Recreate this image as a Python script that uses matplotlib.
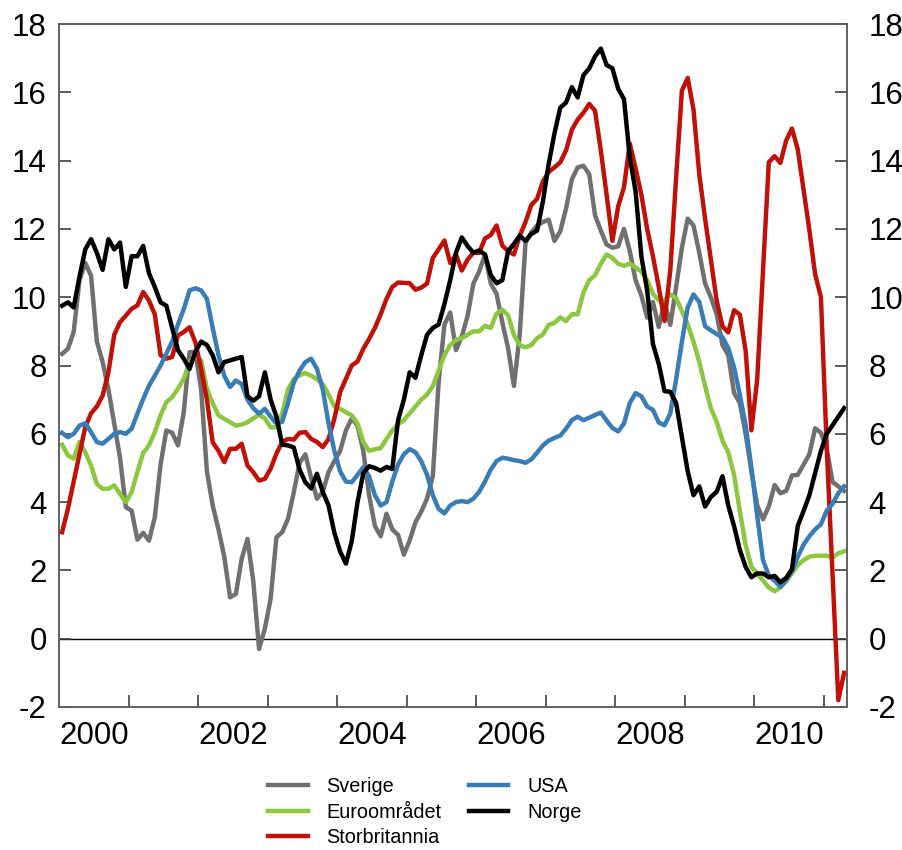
import numpy as np
import matplotlib
matplotlib.use("Agg")
import matplotlib.pyplot as plt

plt.rcParams['font.family'] = ['Liberation Sans', 'DejaVu Sans']

# månedlige tall, jan 2000 - apr 2011 (12-månedersvekst, prosent)
sverige = [8.34, 8.49, 8.98, 10.5, 11.0, 10.63, 8.7, 8.1, 7.3, 6.3, 5.3, 3.85,
           3.75, 2.9, 3.1, 2.87, 3.55, 5.1, 6.1, 6.03, 5.66, 6.63, 8.39, 8.4,
           7.3, 4.9, 3.9, 3.2, 2.4, 1.21, 1.31, 2.34, 2.92, 1.7, -0.3, 0.29,
           1.17, 2.97, 3.12, 3.51, 4.29, 5.15, 5.4, 4.7, 4.1, 4.3, 4.88, 5.2,
           5.5, 6.1, 6.45, 6.24, 5.5, 4.2, 3.3, 3.0, 3.66, 3.2, 3.04, 2.46,
           2.88, 3.41, 3.72, 4.1, 4.76, 7.5, 9.2, 9.55, 8.45, 8.85, 9.45, 10.4,
           10.75, 11.25, 10.4, 10.1, 9.26, 8.5, 7.4, 8.9, 11.6, 11.9, 12.1, 12.2,
           12.27, 11.65, 11.93, 12.6, 13.45, 13.8, 13.85, 13.6, 12.4, 11.95, 11.54, 11.45,
           11.49, 12.0, 11.35, 10.5, 10.05, 9.4, 9.86, 9.13, 9.86, 9.19, 10.3, 11.45,
           12.3, 12.1, 11.3, 10.4, 10.0, 9.5, 8.6, 8.3, 7.2, 6.9, 6.0, 4.9,
           3.9, 3.5, 3.87, 4.5, 4.26, 4.33, 4.78, 4.8, 5.1, 5.4, 6.16, 6.03,
           5.57, 4.59, 4.46, 4.33]

euro = [5.68, 5.37, 5.27, 5.76, 5.46, 5.07, 4.53, 4.39, 4.39, 4.49, 4.24, 4.0,
        4.29, 4.88, 5.44, 5.66, 6.05, 6.54, 6.93, 7.07, 7.32, 7.61, 8.1, 8.29,
        8.15, 7.32, 6.9, 6.54, 6.44, 6.34, 6.24, 6.27, 6.34, 6.45, 6.56, 6.45,
        6.19, 6.19, 6.6, 7.3, 7.6, 7.71, 7.78, 7.7, 7.6, 7.45, 7.15, 6.8,
        6.73, 6.63, 6.54, 6.3, 5.76, 5.5, 5.55, 5.58, 5.85, 6.1, 6.28, 6.4,
        6.6, 6.8, 7.0, 7.15, 7.4, 7.85, 8.3, 8.6, 8.75, 8.8, 8.9, 9.0,
        9.0, 9.16, 9.1, 9.52, 9.63, 9.47, 8.89, 8.6, 8.53, 8.6, 8.8, 8.91,
        9.19, 9.25, 9.41, 9.3, 9.5, 9.5, 10.14, 10.5, 10.64, 10.98, 11.25, 11.15,
        10.98, 10.92, 10.98, 10.87, 10.75, 10.5, 10.1, 9.91, 9.91, 10.08, 9.97, 9.6,
        9.2, 8.7, 8.1, 7.4, 6.75, 6.35, 5.8, 5.46, 4.8, 3.74, 2.75, 2.1,
        1.91, 1.7, 1.5, 1.39, 1.5, 1.68, 1.92, 2.15, 2.3, 2.4, 2.43, 2.43,
        2.43, 2.37, 2.5, 2.56]

uk = [3.12, 3.8, 4.6, 5.4, 6.2, 6.6, 6.8, 7.12, 7.8, 8.9, 9.27, 9.46,
      9.66, 9.76, 10.15, 9.9, 9.5, 8.3, 8.2, 8.25, 8.88, 8.98, 9.12, 8.68,
      7.9, 7.0, 5.75, 5.5, 5.17, 5.56, 5.56, 5.71, 5.07, 4.88, 4.63, 4.68,
      4.98, 5.42, 5.76, 5.85, 5.83, 6.03, 6.05, 5.85, 5.76, 5.61, 5.85, 6.44,
      7.22, 7.61, 8.0, 8.12, 8.49, 8.78, 9.1, 9.5, 9.95, 10.3, 10.43, 10.42,
      10.41, 10.22, 10.28, 10.4, 11.15, 11.4, 11.66, 11.0, 11.25, 10.78, 11.1, 11.3,
      11.3, 11.72, 11.82, 12.1, 11.51, 11.35, 11.25, 11.8, 12.2, 12.7, 12.88, 13.39,
      13.67, 13.8, 13.95, 14.3, 14.9, 15.2, 15.4, 15.66, 15.46, 14.3, 13.0, 11.65,
      12.66, 13.22, 14.5, 13.78, 13.0, 12.0, 11.2, 10.3, 9.3, 10.8, 13.5, 16.05,
      16.42, 15.5, 13.6, 12.3, 11.1, 9.9, 9.15, 8.97, 9.62, 9.49, 8.44, 6.1,
      7.6, 10.8, 13.95, 14.13, 13.93, 14.59, 14.94, 14.33, 13.15, 11.97, 10.67, 10.0,
      5.6, 1.9, -1.8, -1.0]

usa = [6.03, 5.9, 6.0, 6.24, 6.31, 6.05, 5.76, 5.71, 5.85, 6.0, 6.05, 6.0,
       6.15, 6.59, 7.02, 7.41, 7.7, 8.0, 8.35, 8.7, 9.2, 9.65, 10.2, 10.26,
       10.2, 9.95, 9.1, 8.3, 7.7, 7.37, 7.56, 7.46, 7.0, 6.75, 6.59, 6.73,
       6.5, 6.3, 6.35, 6.9, 7.5, 7.85, 8.1, 8.2, 7.9, 7.3, 6.3, 5.5,
       4.9, 4.6, 4.58, 4.8, 5.02, 4.75, 4.2, 3.9, 4.0, 4.6, 5.1, 5.4,
       5.55, 5.46, 5.2, 4.8, 4.2, 3.8, 3.67, 3.9, 4.0, 4.03, 4.0, 4.1,
       4.3, 4.6, 4.95, 5.2, 5.3, 5.27, 5.23, 5.2, 5.15, 5.25, 5.45, 5.66,
       5.8, 5.88, 5.95, 6.15, 6.4, 6.5, 6.4, 6.47, 6.55, 6.62, 6.39, 6.17,
       6.07, 6.3, 6.9, 7.19, 7.1, 6.8, 6.7, 6.33, 6.25, 6.6, 7.6, 8.7,
       9.7, 10.08, 9.86, 9.15, 9.03, 8.92, 8.83, 8.51, 7.95, 7.14, 6.25, 5.0,
       3.6, 2.3, 1.85, 1.7, 1.52, 1.71, 1.98, 2.4, 2.75, 3.0, 3.2, 3.35,
       3.75, 3.95, 4.26, 4.46]

norge = [9.75, 9.85, 9.7, 10.6, 11.4, 11.7, 11.3, 10.8, 11.7, 11.4, 11.6, 10.3,
         11.2, 11.2, 11.5, 10.7, 10.3, 9.85, 9.75, 9.1, 8.45, 8.2, 7.9, 8.4,
         8.7, 8.6, 8.3, 7.8, 8.1, 8.15, 8.2, 8.25, 7.1, 6.97, 7.1, 7.8,
         7.0, 6.5, 5.68, 5.66, 5.6, 4.95, 4.58, 4.4, 4.83, 4.3, 3.9, 3.1,
         2.55, 2.2, 2.85, 4.0, 4.85, 5.05, 5.0, 4.92, 5.03, 4.97, 6.4, 7.0,
         7.8, 7.64, 8.3, 8.9, 9.1, 9.2, 9.8, 10.5, 11.3, 11.75, 11.5, 11.3,
         11.37, 11.25, 10.65, 10.41, 10.5, 11.35, 11.56, 11.8, 11.65, 11.85, 11.95, 12.8,
         13.9, 14.8, 15.55, 15.7, 16.15, 15.85, 16.5, 16.7, 17.05, 17.28, 16.8, 16.7,
         16.1, 15.8, 14.1, 13.1, 11.2, 10.2, 8.63, 8.05, 7.25, 7.23, 6.9, 5.9,
         4.9, 4.2, 4.46, 3.87, 4.15, 4.3, 4.76, 3.9, 3.3, 2.6, 2.1, 1.8,
         1.91, 1.91, 1.8, 1.84, 1.65, 1.78, 2.04, 3.3, 3.74, 4.2, 4.85, 5.5,
         6.0, 6.25, 6.5, 6.75]

years = ['2000', '2002', '2004', '2006', '2008', '2010']
yticks = list(range(-2, 19, 2))

# x-akse i måneder fra jan 2000, punkt midt i måneden
mnd = np.arange(len(norge)) + 0.5

fig = plt.figure(figsize=(9.03, 8.5), dpi=100)
ax = fig.add_axes([59.2 / 903, 143 / 850, (847 - 59.2) / 903, (707 - 24) / 850])

ax.axhline(0, color='black', lw=1.0, zorder=1)

lw = 3.2
ax.plot(mnd, sverige, color='#707070', lw=lw, label='Sverige')
ax.plot(mnd, euro, color='#8dc63f', lw=lw, label='Euroområdet')
ax.plot(mnd, uk, color='#bf1108', lw=lw, label='Storbritannia')
ax.plot(mnd, usa, color='#3a7db6', lw=lw, label='USA')
ax.plot(mnd, norge, color='black', lw=lw, label='Norge')

ax.set_xlim(0, 136)
ax.set_ylim(-2, 18)

ax.set_yticks(yticks)
ax.set_yticklabels([str(v) for v in yticks])
ax.tick_params(axis='y', direction='in', length=8.5, width=1.2, color='#404040',
               left=True, right=False, labelsize=22.5, pad=9)

# høyre akse med egne tall (litt lenger ut enn venstre)
ax2 = ax.twinx()
ax2.set_ylim(-2, 18)
ax2.set_yticks(yticks)
ax2.set_yticklabels([str(v) for v in yticks])
ax2.tick_params(axis='y', direction='in', length=8.5, width=1.2, color='#404040',
                labelsize=22.5, pad=15.5)

ax.set_xticks(np.arange(12, 133, 12))
ax.set_xticklabels([])
ax.set_xticks(np.arange(6, 127, 24), minor=True)
ax.set_xticklabels(years, minor=True)
ax.tick_params(axis='x', which='major', direction='in', length=8.5, width=1.2,
               color='#404040')
ax.tick_params(axis='x', which='minor', length=0, labelsize=22.5, pad=10)

for a in (ax, ax2):
    for s in a.spines.values():
        s.set_color('#606060')
        s.set_linewidth(1.2)

h, l = ax.get_legend_handles_labels()
fig.legend(h, l, loc='upper left', bbox_to_anchor=(268 / 903, 1 - 777 / 850),
           ncol=2, frameon=False, fontsize=14.3, handlelength=2.0,
           handletextpad=0.95, columnspacing=1.35, labelspacing=0.33,
           borderpad=0, borderaxespad=0)

plt.savefig('out.png', dpi=100)
plt.close(fig)
